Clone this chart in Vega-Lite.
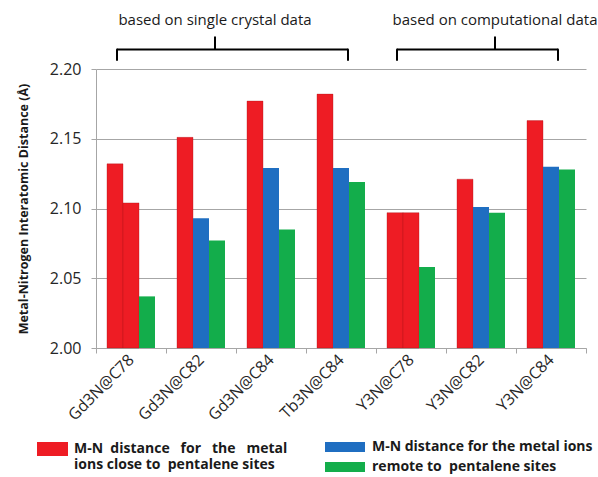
{
  "$schema": "https://vega.github.io/schema/vega-lite/v6.json",
  "width": 490,
  "height": 279,
  "autosize": {"type": "none"},
  "padding": {"left": 96, "top": 69, "right": 12, "bottom": 129},
  "background": "white",
  "config": {
    "font": "Open Sans",
    "view": {"stroke": null},
    "axis": {"domainColor": "#a6a6a6", "tickColor": "#a6a6a6", "gridColor": "#a6a6a6", "labelColor": "#262626", "labelFont": "Open Sans", "titleFont": "Open Sans"}
  },
  "datasets": {
    "bars": [
      {"compound": "Gd3N@C78", "bar": "1", "site": "close", "value": 2.132},
      {"compound": "Gd3N@C78", "bar": "2", "site": "close", "value": 2.104},
      {"compound": "Gd3N@C78", "bar": "3", "site": "remote", "value": 2.037},
      {"compound": "Gd3N@C82", "bar": "1", "site": "close", "value": 2.151},
      {"compound": "Gd3N@C82", "bar": "2", "site": "ions", "value": 2.093},
      {"compound": "Gd3N@C82", "bar": "3", "site": "remote", "value": 2.077},
      {"compound": "Gd3N@C84", "bar": "1", "site": "close", "value": 2.177},
      {"compound": "Gd3N@C84", "bar": "2", "site": "ions", "value": 2.129},
      {"compound": "Gd3N@C84", "bar": "3", "site": "remote", "value": 2.085},
      {"compound": "Tb3N@C84", "bar": "1", "site": "close", "value": 2.182},
      {"compound": "Tb3N@C84", "bar": "2", "site": "ions", "value": 2.129},
      {"compound": "Tb3N@C84", "bar": "3", "site": "remote", "value": 2.119},
      {"compound": "Y3N@C78", "bar": "1", "site": "close", "value": 2.097},
      {"compound": "Y3N@C78", "bar": "2", "site": "close", "value": 2.097},
      {"compound": "Y3N@C78", "bar": "3", "site": "remote", "value": 2.058},
      {"compound": "Y3N@C82", "bar": "1", "site": "close", "value": 2.121},
      {"compound": "Y3N@C82", "bar": "2", "site": "ions", "value": 2.101},
      {"compound": "Y3N@C82", "bar": "3", "site": "remote", "value": 2.097},
      {"compound": "Y3N@C84", "bar": "1", "site": "close", "value": 2.163},
      {"compound": "Y3N@C84", "bar": "2", "site": "ions", "value": 2.130},
      {"compound": "Y3N@C84", "bar": "3", "site": "remote", "value": 2.128}
    ],
    "brackets": [
      {"label": "based on single crystal data", "start": "Gd3N@C78", "end": "Tb3N@C84", "mid": "Gd3N@C82"},
      {"label": "based on computational data", "start": "Y3N@C78", "end": "Y3N@C84", "mid": "Y3N@C82"}
    ]
  },
  "layer": [
    {
      "data": {"name": "bars"},
      "transform": [{"filter": "datum.site === 'close'"}],
      "mark": {"type": "bar", "stroke": "#a8141a", "strokeWidth": 0.5, "strokeOpacity": 0.7},
      "encoding": {
        "x": {
          "field": "compound", "type": "nominal", "sort": null,
          "scale": {"domain": ["Gd3N@C78", "Gd3N@C82", "Gd3N@C84", "Tb3N@C84", "Y3N@C78", "Y3N@C82", "Y3N@C84"], "paddingInner": 0, "paddingOuter": 0},
          "axis": {"title": null, "labelAngle": -45, "labelAlign": "right", "labelBaseline": "middle", "labelFontSize": 16, "labelPadding": 4, "tickBand": "extent", "tickSize": 5, "grid": false}
        },
        "xOffset": {"field": "bar", "type": "nominal", "scale": {"domain": ["1", "2", "3"], "paddingInner": 0, "paddingOuter": 0.6875}},
        "y": {
          "field": "value", "type": "quantitative",
          "scale": {"domain": [2, 2.2], "nice": false, "zero": false},
          "axis": {"title": "Metal-Nitrogen Interatomic Distance (Å)", "values": [2, 2.05, 2.1, 2.15, 2.2], "format": ".2f", "labelFontSize": 16, "tickSize": 5, "labelPadding": 10, "grid": true, "titleFontSize": 12.5, "titleFontWeight": "bold", "titleColor": "#1a1a1a", "titlePadding": 19}
        },
        "y2": {"datum": 2},
        "color": {
          "field": "site", "type": "nominal",
          "scale": {"domain": ["close"], "range": ["#ee1c24"]},
          "legend": {
            "orient": "none", "legendX": -50.5, "legendY": 373, "title": null, "padding": 0,
            "symbolType": "M-3.1,-1.4H3.1V1.4H-3.1Z", "symbolSize": 100, "symbolStrokeWidth": 0,
            "labelOffset": 14.5, "labelFontSize": 14, "labelFontWeight": "bold", "labelColor": "#1a1a1a", "labelLimit": 400,
            "labelExpr": "['M-N\u00a0\u00a0distance\u00a0\u00a0\u00a0for\u00a0\u00a0\u00a0the\u00a0\u00a0\u00a0metal', 'ions close to\u00a0\u00a0pentalene sites']",
            "encode": {"labels": {"update": {"lineHeight": {"value": 18}}}}
          }
        }
      }
    },
    {
      "data": {"name": "bars"},
      "transform": [{"filter": "datum.site !== 'close'"}],
      "mark": {"type": "bar"},
      "encoding": {
        "x": {"field": "compound", "type": "nominal", "sort": null,
          "scale": {"domain": ["Gd3N@C78", "Gd3N@C82", "Gd3N@C84", "Tb3N@C84", "Y3N@C78", "Y3N@C82", "Y3N@C84"], "paddingInner": 0, "paddingOuter": 0}},
        "xOffset": {"field": "bar", "type": "nominal", "scale": {"domain": ["1", "2", "3"], "paddingInner": 0, "paddingOuter": 0.6875}},
        "y": {"field": "value", "type": "quantitative", "scale": {"domain": [2, 2.2], "nice": false, "zero": false}},
        "y2": {"datum": 2},
        "color": {
          "field": "site", "type": "nominal",
          "scale": {"domain": ["ions", "remote"], "range": ["#1f6ec1", "#13ad4b"]},
          "legend": {
            "orient": "none", "legendX": 242, "legendY": 371, "title": null, "padding": 0, "direction": "vertical", "rowPadding": 6,
            "symbolType": "M-4,-1H4V1H-4Z", "symbolSize": 100, "symbolStrokeWidth": 0,
            "labelOffset": 20, "labelFontSize": 14, "labelFontWeight": "bold", "labelColor": "#1a1a1a", "labelLimit": 400,
            "labelExpr": "datum.label === 'ions' ? 'M-N distance for the metal ions' : 'remote to\u00a0\u00a0pentalene sites'"
          }
        }
      }
    },
    {
      "data": {"name": "brackets"},
      "mark": {"type": "rule", "strokeWidth": 2, "color": "black"},
      "encoding": {
        "x": {"field": "start", "type": "nominal", "bandPosition": 0.3,
          "scale": {"domain": ["Gd3N@C78", "Gd3N@C82", "Gd3N@C84", "Tb3N@C84", "Y3N@C78", "Y3N@C82", "Y3N@C84"], "paddingInner": 0, "paddingOuter": 0}},
        "x2": {"field": "end", "bandPosition": 0.6},
        "y": {"datum": 2.2139, "type": "quantitative", "scale": {"domain": [2, 2.2], "nice": false, "zero": false}}
      }
    },
    {
      "data": {"name": "brackets"},
      "mark": {"type": "rule", "strokeWidth": 2, "color": "black", "strokeCap": "round"},
      "encoding": {
        "x": {"field": "start", "type": "nominal", "bandPosition": 0.3,
          "scale": {"domain": ["Gd3N@C78", "Gd3N@C82", "Gd3N@C84", "Tb3N@C84", "Y3N@C78", "Y3N@C82", "Y3N@C84"], "paddingInner": 0, "paddingOuter": 0}},
        "y": {"datum": 2.2139, "type": "quantitative", "scale": {"domain": [2, 2.2], "nice": false, "zero": false}},
        "y2": {"datum": 2.2064}
      }
    },
    {
      "data": {"name": "brackets"},
      "mark": {"type": "rule", "strokeWidth": 2, "color": "black", "strokeCap": "round"},
      "encoding": {
        "x": {"field": "end", "type": "nominal", "bandPosition": 0.6,
          "scale": {"domain": ["Gd3N@C78", "Gd3N@C82", "Gd3N@C84", "Tb3N@C84", "Y3N@C78", "Y3N@C82", "Y3N@C84"], "paddingInner": 0, "paddingOuter": 0}},
        "y": {"datum": 2.2139, "type": "quantitative", "scale": {"domain": [2, 2.2], "nice": false, "zero": false}},
        "y2": {"datum": 2.2064}
      }
    },
    {
      "data": {"name": "brackets"},
      "mark": {"type": "rule", "strokeWidth": 2, "color": "black"},
      "encoding": {
        "x": {"field": "mid", "type": "nominal", "bandPosition": 0.7,
          "scale": {"domain": ["Gd3N@C78", "Gd3N@C82", "Gd3N@C84", "Tb3N@C84", "Y3N@C78", "Y3N@C82", "Y3N@C84"], "paddingInner": 0, "paddingOuter": 0}},
        "y": {"datum": 2.2139, "type": "quantitative", "scale": {"domain": [2, 2.2], "nice": false, "zero": false}},
        "y2": {"datum": 2.2233}
      }
    },
    {
      "data": {"name": "brackets"},
      "mark": {"type": "text", "fontSize": 15, "color": "#1a1a1a", "baseline": "middle", "align": "center"},
      "encoding": {
        "x": {"field": "mid", "type": "nominal", "bandPosition": 0.7,
          "scale": {"domain": ["Gd3N@C78", "Gd3N@C82", "Gd3N@C84", "Tb3N@C84", "Y3N@C78", "Y3N@C82", "Y3N@C84"], "paddingInner": 0, "paddingOuter": 0}},
        "y": {"datum": 2.2348, "type": "quantitative", "scale": {"domain": [2, 2.2], "nice": false, "zero": false}},
        "text": {"field": "label", "type": "nominal"}
      }
    }
  ],
  "resolve": {"scale": {"color": "independent"}}
}
